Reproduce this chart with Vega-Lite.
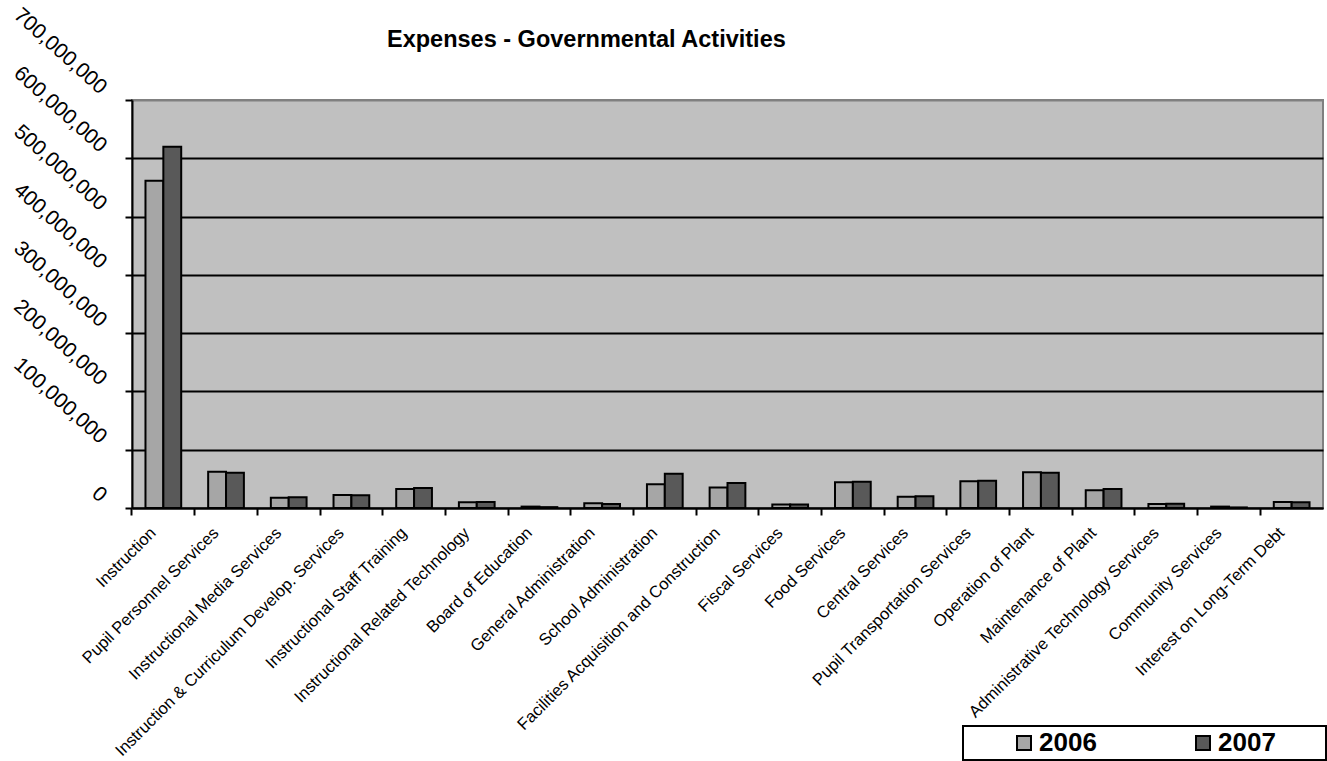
{
  "$schema": "https://vega.github.io/schema/vega-lite/v6.json",
  "autosize": {"type": "none"},
  "padding": {"left": 132, "top": 100, "right": 4, "bottom": 253},
  "width": 1191,
  "height": 408,
  "background": "white",
  "title": {
    "text": "Expenses - Governmental Activities",
    "anchor": "start",
    "frame": "group",
    "dx": 255,
    "dy": 52,
    "font": "Liberation Sans",
    "fontSize": 23.5,
    "fontWeight": "bold",
    "color": "black"
  },
  "data": {
    "values": [
      {"category": "Instruction", "year": "2006", "amount": 561500000},
      {"category": "Instruction", "year": "2007", "amount": 620000000},
      {"category": "Pupil Personnel Services", "year": "2006", "amount": 62300000},
      {"category": "Pupil Personnel Services", "year": "2007", "amount": 60600000},
      {"category": "Instructional Media Services", "year": "2006", "amount": 17700000},
      {"category": "Instructional Media Services", "year": "2007", "amount": 18300000},
      {"category": "Instruction & Curriculum Develop. Services", "year": "2006", "amount": 22300000},
      {"category": "Instruction & Curriculum Develop. Services", "year": "2007", "amount": 22000000},
      {"category": "Instructional Staff Training", "year": "2006", "amount": 32600000},
      {"category": "Instructional Staff Training", "year": "2007", "amount": 34300000},
      {"category": "Instructional Related Technology", "year": "2006", "amount": 9800000},
      {"category": "Instructional Related Technology", "year": "2007", "amount": 10300000},
      {"category": "Board of Education", "year": "2006", "amount": 2400000},
      {"category": "Board of Education", "year": "2007", "amount": 1500000},
      {"category": "General Administration", "year": "2006", "amount": 8100000},
      {"category": "General Administration", "year": "2007", "amount": 7000000},
      {"category": "School Administration", "year": "2006", "amount": 40600000},
      {"category": "School Administration", "year": "2007", "amount": 58900000},
      {"category": "Facilities Acquisition and Construction", "year": "2006", "amount": 35000000},
      {"category": "Facilities Acquisition and Construction", "year": "2007", "amount": 42900000},
      {"category": "Fiscal Services", "year": "2006", "amount": 5800000},
      {"category": "Fiscal Services", "year": "2007", "amount": 5800000},
      {"category": "Food Services", "year": "2006", "amount": 44000000},
      {"category": "Food Services", "year": "2007", "amount": 45200000},
      {"category": "Central Services", "year": "2006", "amount": 19400000},
      {"category": "Central Services", "year": "2007", "amount": 20000000},
      {"category": "Pupil Transportation Services", "year": "2006", "amount": 45800000},
      {"category": "Pupil Transportation Services", "year": "2007", "amount": 46900000},
      {"category": "Operation of Plant", "year": "2006", "amount": 61200000},
      {"category": "Operation of Plant", "year": "2007", "amount": 60600000},
      {"category": "Maintenance of Plant", "year": "2006", "amount": 30400000},
      {"category": "Maintenance of Plant", "year": "2007", "amount": 32600000},
      {"category": "Administrative Technology Services", "year": "2006", "amount": 6900000},
      {"category": "Administrative Technology Services", "year": "2007", "amount": 7400000},
      {"category": "Community Services", "year": "2006", "amount": 2400000},
      {"category": "Community Services", "year": "2007", "amount": 1000000},
      {"category": "Interest on Long-Term Debt", "year": "2006", "amount": 10300000},
      {"category": "Interest on Long-Term Debt", "year": "2007", "amount": 10000000}
    ]
  },
  "mark": {"type": "bar", "stroke": "black", "strokeWidth": 2},
  "encoding": {
    "x": {
      "field": "category",
      "type": "nominal",
      "sort": null,
      "scale": {"paddingInner": 0.43, "paddingOuter": 0.215},
      "axis": {
        "title": null,
        "bandPosition": -0.378,
        "labelAngle": -45,
        "labelAlign": "right",
        "labelBaseline": "middle",
        "labelOffset": -10,
        "labelPadding": 15,
        "labelFont": "Liberation Sans",
        "labelFontSize": 16.6,
        "labelColor": "black",
        "labelLimit": 500,
        "labelOverlap": false,
        "ticks": true,
        "tickSize": 7,
        "tickWidth": 2,
        "tickColor": "black",
        "domainColor": "black",
        "domainWidth": 2,
        "grid": false
      }
    },
    "xOffset": {"field": "year", "type": "nominal", "scale": {"paddingInner": 0, "paddingOuter": 0}},
    "y": {
      "field": "amount",
      "type": "quantitative",
      "scale": {"domain": [0, 700000000], "nice": false},
      "axis": {
        "title": null,
        "values": [0, 100000000, 200000000, 300000000, 400000000, 500000000, 600000000, 700000000],
        "format": ",d",
        "labelAngle": 42,
        "labelAlign": "right",
        "labelBaseline": "middle",
        "labelPadding": 22,
        "labelOffset": -10,
        "labelFont": "Liberation Sans",
        "labelFontSize": 21,
        "labelColor": "black",
        "labelOverlap": false,
        "tickSize": 7,
        "tickWidth": 2,
        "tickColor": "black",
        "domainColor": "black",
        "domainWidth": 2,
        "grid": true,
        "gridColor": {"condition": {"test": "datum.value >= 700000000", "value": "#808080"}, "value": "black"},
        "gridWidth": 2,
        "gridOpacity": 1
      }
    },
    "color": {
      "field": "year",
      "type": "nominal",
      "scale": {"domain": ["2006", "2007"], "range": ["#A6A6A6", "#595959"]},
      "legend": {
        "orient": "none",
        "legendX": 831,
        "legendY": 626,
        "direction": "horizontal",
        "title": "\u2800\u2800\u2800",
        "titleOrient": "left",
        "titleFontSize": 16,
        "titlePadding": 8,
        "labelExpr": "datum.label + '\u2800\u00a0\u2800'",
        "labelFont": "Liberation Sans",
        "labelFontSize": 26,
        "labelFontWeight": "bold",
        "labelColor": "black",
        "labelOffset": 2,
        "columnPadding": 47,
        "symbolType": "square",
        "symbolSize": 196,
        "symbolStrokeColor": "black",
        "symbolStrokeWidth": 2,
        "symbolOpacity": 1,
        "fillColor": "white",
        "strokeColor": "black",
        "padding": 4
      }
    }
  },
  "config": {
    "view": {"fill": "#C0C0C0", "stroke": "#808080", "strokeWidth": 2},
    "legend": {"strokeWidth": 2}
  }
}
